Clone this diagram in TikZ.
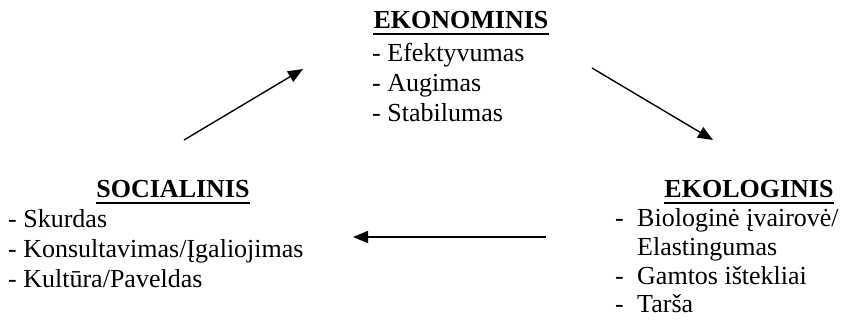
\documentclass[tikz,border=0pt]{standalone}
\usepackage{fontspec}
\setmainfont{Liberation Serif}
\usepackage{tikz}
\usetikzlibrary{arrows.meta}
\newcommand{\headfont}{\fontsize{26}{30}\selectfont\bfseries}
\newcommand{\itemfont}{\fontsize{26}{30}\selectfont}
\newcommand{\dsh}{\makebox[22pt][l]{-}}

\begin{document}
\begin{tikzpicture}[x=1pt, y=1pt,
	head/.style={font=\headfont, inner sep=0pt, anchor=base},
	items/.style={font=\itemfont, inner sep=0pt, anchor=base west},
	uline/.style={line width=2pt},
	link/.style={line width=1.4pt, -{Triangle[length=15pt,width=12pt]}}]
	\useasboundingbox (0,0) rectangle (845,324);

	\node[head] (h1) at (461,295) {EKONOMINIS};
	\node[head] (h2) at (173,126) {SOCIALINIS};
	\node[head] (h3) at (749,126) {EKOLOGINIS};

	\node[items] (l1) at (372,262) {\begin{tabular}[t]{@{}l@{}}
		- Efektyvumas\\ - Augimas\\ - Stabilumas
	\end{tabular}};
	\node[items] (l2) at (8,96) {\begin{tabular}[t]{@{}l@{}}
		- Skurdas\\ - Konsultavimas/Įgaliojimas\\ - Kultūra/Paveldas
	\end{tabular}};
	\node[items, font=\fontsize{26}{28.5}\selectfont] (l3) at (615,97) {\begin{tabular}[t]{@{}l@{}}
		\dsh Biologinė įvairovė/\\ \makebox[22pt]{}Elastingumas\\ \dsh Gamtos ištekliai\\ \dsh Tarša
	\end{tabular}};

	\draw[uline] ([yshift=-5.5pt]h1.base west) -- ([yshift=-5.5pt]h1.base east);
	\draw[uline] ([yshift=-5.5pt]h2.base west) -- ([yshift=-5.5pt]h2.base east);
	\draw[uline] ([yshift=-5.5pt]h3.base west) -- ([yshift=-5.5pt]h3.base east);

	\coordinate (a1) at (184,184);
	\coordinate (b1) at (303,255);
	\coordinate (a2) at (592,256);
	\coordinate (b2) at (713,184);
	\coordinate (a3) at (546,87);
	\coordinate (b3) at (353,87);

	\draw[link] (a1) -- (b1);
	\draw[link] (a2) -- (b2);
	\draw[link] (a3) -- (b3);
\end{tikzpicture}
\end{document}
